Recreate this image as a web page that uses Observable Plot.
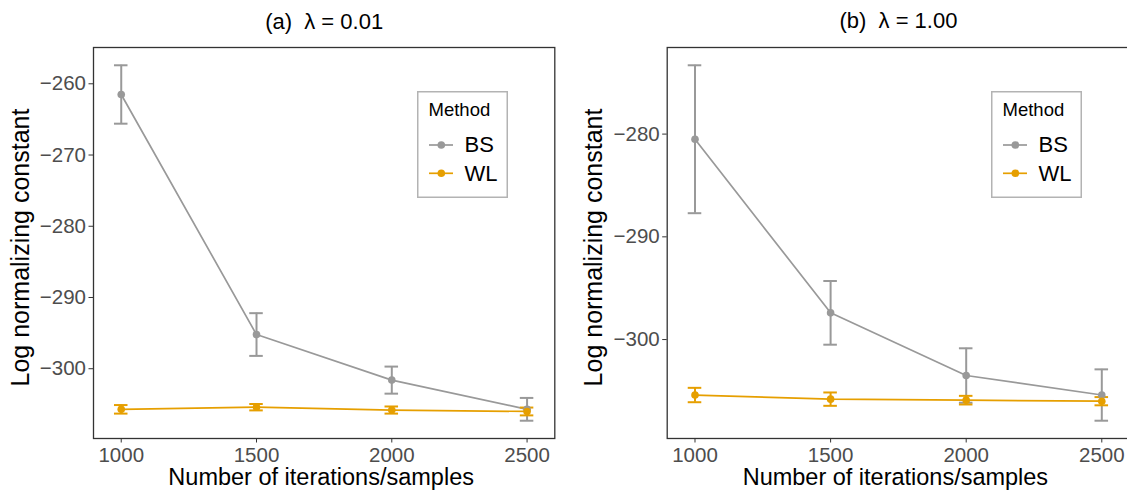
<!DOCTYPE html>
<html><head><meta charset="utf-8">
<script src="https://cdn.jsdelivr.net/npm/d3@7"></script>
<script src="https://cdn.jsdelivr.net/npm/@observablehq/plot@0.6"></script>
<style>
body{margin:0;background:#fff;}
#wrap{position:relative;width:1127px;height:491px;overflow:hidden;background:#fff;font-family:"Liberation Sans",Arial,Helvetica,sans-serif;}
.panel{position:absolute;top:0;}
.legend{position:absolute;}
</style></head><body><div id="wrap"></div>
<script>
const iterations = [1000, 1500, 2000, 2500];
const methods = ["BS", "WL"];
const methodColors = ["#999999", "#E69F00"];
const panelTitles = ["(a)  λ = 0.01", "(b)  λ = 1.00"];
const legendTitle = "Method";
const xLabel = "Number of iterations/samples";
const yLabel = "Log normalizing constant";

// panel (a) lambda = 0.01
const bsMeanA = [-261.5, -295.2, -301.6, -305.7];
const bsErrA  = [4.1, 3.0, 1.9, 1.6];
const wlMeanA = [-305.7, -305.4, -305.8, -306.0];
const wlErrA  = [0.6, 0.45, 0.5, 0.55];
// panel (b) lambda = 1.00
const bsMeanB = [-280.5, -297.4, -303.5, -305.4];
const bsErrB  = [7.2, 3.1, 2.65, 2.5];
const wlMeanB = [-305.4, -305.8, -305.9, -306.0];
const wlErrB  = [0.7, 0.65, 0.42, 0.4];

const xTicks = [1000, 1500, 2000, 2500];
const yTicksA = [-260, -270, -280, -290, -300];
const yTicksB = [-280, -290, -300];
const capWidth = 50; // errorbar width in x units

const FONT = '"Liberation Sans", Arial, Helvetica, sans-serif';

function rowsFor(bsMean, bsErr, wlMean, wlErr) {
  const rows = [];
  iterations.forEach((x, i) => rows.push({method: "BS", x, mean: bsMean[i], lo: bsMean[i] - bsErr[i], hi: bsMean[i] + bsErr[i]}));
  iterations.forEach((x, i) => rows.push({method: "WL", x, mean: wlMean[i], lo: wlMean[i] - wlErr[i], hi: wlMean[i] + wlErr[i]}));
  return rows;
}
const minus = d => d < 0 ? "\u2212" + Math.abs(d) : String(d);

function panel(rows, yTicks, title, o) {
  const ylo = d3.min(rows, d => d.lo), yhi = d3.max(rows, d => d.hi);
  const yp = (yhi - ylo) * 0.05;
  const xlo = d3.min(rows, d => d.x) - capWidth / 2, xhi = d3.max(rows, d => d.x) + capWidth / 2;
  const xp = (xhi - xlo) * 0.05;
  return Plot.plot({
    width: o.width, height: 491,
    marginTop: 47, marginBottom: 53, marginLeft: o.ml, marginRight: o.mr,
    style: {fontFamily: FONT, fontSize: "20.5px", color: "#4D4D4D", background: "transparent", overflow: "visible"},
    x: {domain: [xlo - xp, xhi + xp]},
    y: {domain: [ylo - yp, yhi + yp]},
    color: {domain: methods, range: methodColors},
    marks: [
      Plot.axisX({ticks: xTicks, tickSize: 4.5, tickPadding: 4, tickFormat: d => String(d), label: null, stroke: "#333333", fill: "#4D4D4D", fontSize: 20.5}),
      Plot.axisY({ticks: yTicks, tickSize: 4.5, tickPadding: 3, tickFormat: minus, label: null, stroke: "#333333", fill: "#4D4D4D", fontSize: 20.5}),
      Plot.line(rows, {x: "x", y: "mean", z: "method", stroke: "method", strokeWidth: 1.7}),
      Plot.ruleX(rows, {x: "x", y1: "lo", y2: "hi", stroke: "method", strokeWidth: 2}),
      Plot.ruleY(rows, {x1: d => d.x - capWidth / 2, x2: d => d.x + capWidth / 2, y: "lo", stroke: "method", strokeWidth: 2}),
      Plot.ruleY(rows, {x1: d => d.x - capWidth / 2, x2: d => d.x + capWidth / 2, y: "hi", stroke: "method", strokeWidth: 2}),
      Plot.dot(rows, {x: "x", y: "mean", fill: "method", r: 3.8}),
      Plot.frame({stroke: "#333333", strokeWidth: 1.3}),
      Plot.text([title], {text: d => d, frameAnchor: "top", dy: -19, lineAnchor: "bottom", fontSize: 22, fill: "black"}),
      Plot.text([xLabel], {text: d => d, frameAnchor: "bottom", dy: 46.5, dx: -3, lineAnchor: "bottom", fontSize: 23.5, fill: "black"}),
      Plot.text([yLabel], {text: d => d, frameAnchor: "left", dx: -65, dy: 4.5, rotate: -90, textAnchor: "middle", lineAnchor: "bottom", fontSize: 25, fill: "black"})
    ]
  });
}

function legend(left, top) {
  const ns = "http://www.w3.org/2000/svg";
  const svg = document.createElementNS(ns, "svg");
  svg.setAttribute("width", 91); svg.setAttribute("height", 107);
  svg.setAttribute("class", "legend");
  svg.style.left = left + "px"; svg.style.top = top + "px";
  svg.style.fontFamily = FONT;
  const el = (tag, attrs, txt) => {
    const e = document.createElementNS(ns, tag);
    for (const k in attrs) e.setAttribute(k, attrs[k]);
    if (txt != null) e.textContent = txt;
    svg.appendChild(e); return e;
  };
  el("rect", {x: 0.75, y: 0.75, width: 89.5, height: 105.5, fill: "white", stroke: "#B3B3B3", "stroke-width": 1.5});
  el("text", {x: 11.5, y: 25, "font-size": 18.5, fill: "black"}, legendTitle);
  const keyY = [54, 82.3];
  methods.forEach((m, i) => {
    el("line", {x1: 12, x2: 36, y1: keyY[i], y2: keyY[i], stroke: methodColors[i], "stroke-width": 1.7});
    el("circle", {cx: 24.3, cy: keyY[i], r: 3.8, fill: methodColors[i]});
    el("text", {x: 47.5, y: keyY[i] + 7.2, "font-size": 22, fill: "black"}, m);
  });
  return svg;
}

const wrap = document.getElementById("wrap");
const pA = panel(rowsFor(bsMeanA, bsErrA, wlMeanA, wlErrA), yTicksA, panelTitles[0], {width: 563, ml: 93, mr: 8.7});
pA.classList.add("panel"); pA.style.left = "0px";
wrap.appendChild(pA);
const pB = panel(rowsFor(bsMeanB, bsErrB, wlMeanB, wlErrB), yTicksB, panelTitles[1], {width: 566.1, ml: 103.7, mr: 0});
pB.classList.add("panel"); pB.style.left = "563px";
wrap.appendChild(pB);
wrap.appendChild(legend(417, 91));
wrap.appendChild(legend(990.7, 91));
</script></body></html>
